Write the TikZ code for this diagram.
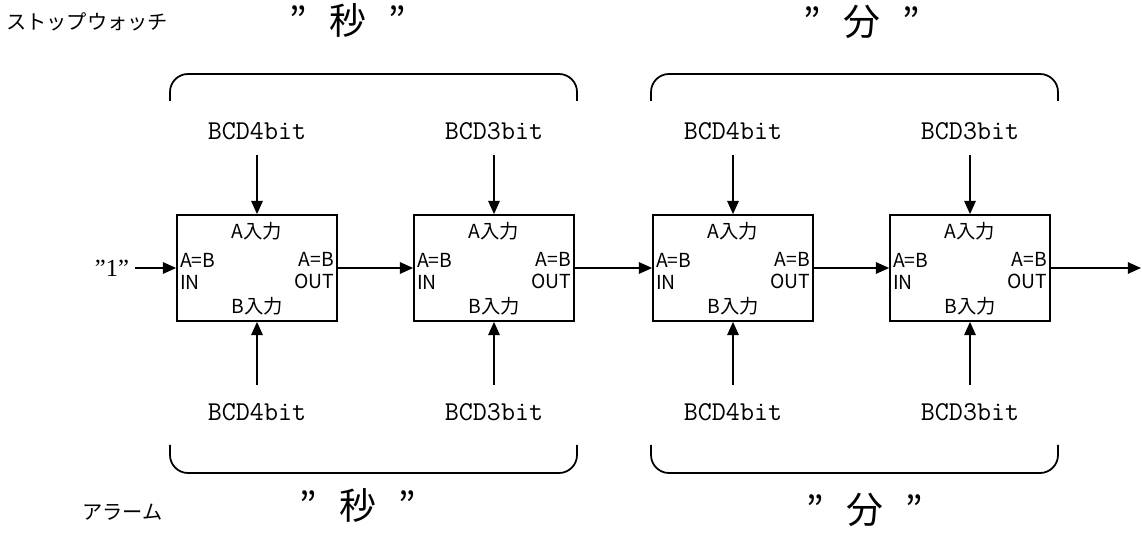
\documentclass[tikz,border=0pt]{standalone}
\usepackage{fontspec}
\setmainfont{Noto Sans CJK JP}
\newfontfamily\numfont{Liberation Serif}
\usepackage{tikz}
\usetikzlibrary{arrows.meta, positioning}

\tikzset{
    cmpbox/.style={draw, line width=1pt, minimum width=3.2cm, minimum height=2.12cm},
    port/.style={font=\fontsize{11}{12.5}\selectfont, inner sep=2pt},
    bcd/.style={font=\ttfamily\fontsize{15.5}{16}\selectfont},
    unit/.style={font=\fontsize{21}{22}\selectfont},
    kana/.style={font=\fontsize{11.5}{12}\selectfont},
    sig/.style={-{Triangle[length=7.5pt,width=6.5pt]}, line width=1pt},
    brace/.style={line width=1pt, rounded corners=0.36cm},
}

\begin{document}
\begin{tikzpicture}[x=0.02cm, y=-0.02cm]
            \useasboundingbox (0,0) rectangle (1142,536);

            % comparators
            \node[cmpbox] at (257, 268) (s1) {};
            \node[cmpbox] at (494, 268) (s2) {};
            \node[cmpbox] at (733, 268) (m1) {};
            \node[cmpbox] at (970, 268) (m2) {};

            % port labels
            \node[port] at ([yshift=-0.34cm]s1.north) (s1a) {A入力};
            \node[port] at ([yshift=0.32cm]s1.south) (s1b) {B入力};
            \node[port, anchor=west, align=left] at ([yshift=-0.06cm]s1.west) (s1i) {A=B\\IN};
            \node[port, anchor=east, align=right] at ([yshift=-0.06cm]s1.east) (s1o) {A=B\\OUT};
            \node[port] at ([yshift=-0.34cm]s2.north) (s2a) {A入力};
            \node[port] at ([yshift=0.32cm]s2.south) (s2b) {B入力};
            \node[port, anchor=west, align=left] at ([yshift=-0.06cm]s2.west) (s2i) {A=B\\IN};
            \node[port, anchor=east, align=right] at ([yshift=-0.06cm]s2.east) (s2o) {A=B\\OUT};
            \node[port] at ([yshift=-0.34cm]m1.north) (m1a) {A入力};
            \node[port] at ([yshift=0.32cm]m1.south) (m1b) {B入力};
            \node[port, anchor=west, align=left] at ([yshift=-0.06cm]m1.west) (m1i) {A=B\\IN};
            \node[port, anchor=east, align=right] at ([yshift=-0.06cm]m1.east) (m1o) {A=B\\OUT};
            \node[port] at ([yshift=-0.34cm]m2.north) (m2a) {A入力};
            \node[port] at ([yshift=0.32cm]m2.south) (m2b) {B入力};
            \node[port, anchor=west, align=left] at ([yshift=-0.06cm]m2.west) (m2i) {A=B\\IN};
            \node[port, anchor=east, align=right] at ([yshift=-0.06cm]m2.east) (m2o) {A=B\\OUT};

            % BCD inputs
            \node[bcd] at (257, 131) (s1t) {BCD4bit};
            \node[bcd] at (494, 131) (s2t) {BCD3bit};
            \node[bcd] at (733, 131) (m1t) {BCD4bit};
            \node[bcd] at (970, 131) (m2t) {BCD3bit};
            \node[bcd] at (257, 412) (s1d) {BCD4bit};
            \node[bcd] at (494, 412) (s2d) {BCD3bit};
            \node[bcd] at (733, 412) (m1d) {BCD4bit};
            \node[bcd] at (970, 412) (m2d) {BCD3bit};

            \node[font=\numfont\fontsize{14}{15}\selectfont] at (112, 268) (one) {”1”};
            \coordinate (out) at (1141, 268);

            \draw [sig, shorten <=5pt] (s1t) -- (s1);
            \draw [sig, shorten <=5pt] (s2t) -- (s2);
            \draw [sig, shorten <=5pt] (m1t) -- (m1);
            \draw [sig, shorten <=5pt] (m2t) -- (m2);
            \draw [sig, shorten <=7pt] (s1d) -- (s1);
            \draw [sig, shorten <=7pt] (s2d) -- (s2);
            \draw [sig, shorten <=7pt] (m1d) -- (m1);
            \draw [sig, shorten <=7pt] (m2d) -- (m2);
            \draw [sig] (one) -- (s1);
            \draw [sig] (s1) -- (s2);
            \draw [sig] (s2) -- (m1);
            \draw [sig] (m1) -- (m2);
            \draw [sig] (m2) -- (out);

            % braces
            \draw [brace] (170, 101) |- (577, 74) -- (577, 101);
            \draw [brace] (651, 101) |- (1058, 74) -- (1058, 101);
            \draw [brace] (170, 445) |- (577, 473) -- (577, 445);
            \draw [brace] (651, 445) |- (1058, 473) -- (1058, 445);

            % titles
            \node[kana, anchor=west] at (0, 22) (sw) {ストップウォッチ};
            \node[unit] at (348, 20) (secT) {”\hspace{0.6em}秒\hspace{0.6em}”};
            \node[unit] at (862, 22) (minT) {”\hspace{0.6em}分\hspace{0.6em}”};
            \node[kana, anchor=west] at (76, 512) (al) {アラーム};
            \node[unit] at (358, 505) (secB) {”\hspace{0.6em}秒\hspace{0.6em}”};
            \node[unit] at (865, 510) (minB) {”\hspace{0.6em}分\hspace{0.6em}”};
        \end{tikzpicture}
\end{document}
